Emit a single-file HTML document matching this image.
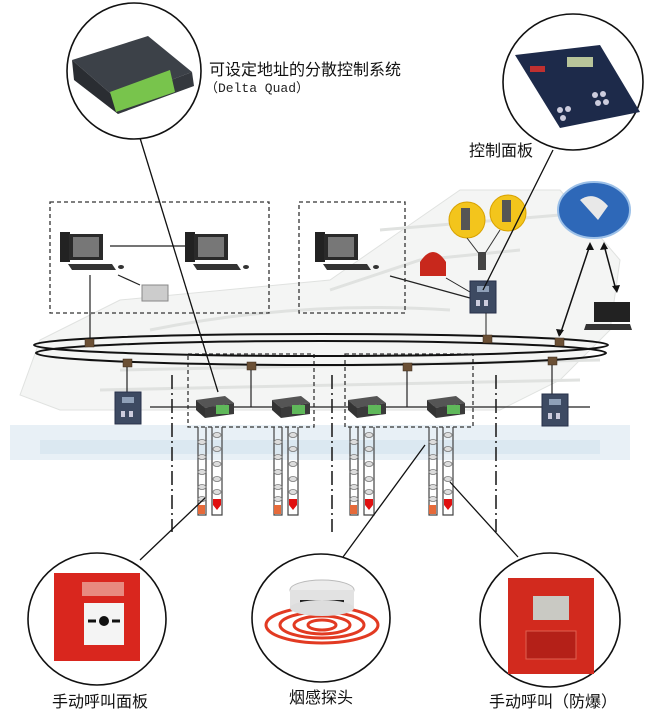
<!DOCTYPE html>
<html><head><meta charset="utf-8"><style>
html,body{margin:0;padding:0;background:#fff;width:650px;height:721px;overflow:hidden}
svg{display:block}
.t{font-family:"Liberation Sans","Noto Sans CJK SC",sans-serif;fill:#111}
</style></head><body>
<svg width="650" height="721" viewBox="0 0 650 721" xmlns="http://www.w3.org/2000/svg">
<defs>
<g id="ctrl">
  <polygon points="-18,-7 11,-11 20,-4 -9,1" fill="#555"/>
  <polygon points="-18,-7 -9,1 -9,11 -18,3" fill="#333"/>
  <polygon points="-9,1 20,-4 20,7 -9,11" fill="#3a3a3a"/>
  <rect x="2" y="-2" width="13" height="9" fill="#5fb85a"/>
</g>
<g id="strip">
  <path d="M-14,0 V88 H-6 V0 M0,0 V88 H10 V0" fill="none" stroke="#444" stroke-width="1.2"/>
  <g fill="#ddd" stroke="#777" stroke-width="0.8">
    <ellipse cx="-10" cy="15" rx="4" ry="2.5"/><ellipse cx="-10" cy="30" rx="4" ry="2.5"/><ellipse cx="-10" cy="45" rx="4" ry="2.5"/><ellipse cx="-10" cy="60" rx="4" ry="2.5"/><ellipse cx="-10" cy="72" rx="4" ry="2.5"/>
    <ellipse cx="5" cy="8" rx="4" ry="2.5"/><ellipse cx="5" cy="22" rx="4" ry="2.5"/><ellipse cx="5" cy="37" rx="4" ry="2.5"/><ellipse cx="5" cy="52" rx="4" ry="2.5"/><ellipse cx="5" cy="65" rx="4" ry="2.5"/>
  </g>
  <rect x="-14" y="78" width="7" height="9" fill="#e66a3a"/>
  <path d="M1,72 h8 v6 l-4,5 l-4,-5z" fill="#e01010"/>
</g>
<g id="pc">
  <rect x="0" y="0" width="10" height="30" fill="#222"/>
  <rect x="9" y="2" width="34" height="26" fill="#2a2a2a"/>
  <rect x="13" y="5" width="26" height="20" fill="#777"/>
  <polygon points="8,32 52,32 56,38 12,38" fill="#333"/>
  <ellipse cx="61" cy="35" rx="3" ry="2" fill="#333"/>
</g>
<g id="panel">
  <rect x="-13" y="-16" width="26" height="32" fill="#3d4a62" stroke="#26304a"/>
  <rect x="-6" y="-11" width="12" height="6" fill="#8fa0b8"/>
  <rect x="-7" y="3" width="4" height="6" fill="#ccd"/><rect x="1" y="3" width="4" height="6" fill="#ccd"/>
</g>
</defs>

<!-- ship background -->
<g fill="#f4f5f4" stroke="#e0e2e0">
  <path d="M20,395 L40,340 L120,300 L330,280 L460,190 L560,190 L620,260 L610,330 L560,380 L500,410 L60,410 Z"/>
</g>
<g stroke="#e0e2e0" stroke-width="3" fill="none">
  <path d="M150,330 Q300,300 450,310"/><path d="M120,370 L600,360"/><path d="M100,390 L580,380"/>
  <path d="M330,290 L420,260 L520,250"/><path d="M380,230 L560,215"/>
</g>
<rect x="10" y="425" width="620" height="35" fill="#e8f0f6"/>
<rect x="40" y="440" width="560" height="14" fill="#dbe8f1"/>

<!-- dashed boxes -->
<g fill="none" stroke="#333" stroke-width="1.3" stroke-dasharray="4,3">
  <rect x="50" y="202" width="219" height="111"/>
  <rect x="299" y="202" width="106" height="111"/>
  <rect x="188" y="354" width="126" height="73"/>
  <rect x="345" y="354" width="128" height="73"/>
</g>
<g stroke="#222" stroke-width="1.6" stroke-dasharray="14,4,2,4">
  <line x1="172" y1="375" x2="172" y2="532"/>
  <line x1="332" y1="375" x2="332" y2="532"/>
  <line x1="496" y1="375" x2="496" y2="532"/>
</g>

<!-- computers -->
<use href="#pc" x="60" y="232"/>
<use href="#pc" x="185" y="232"/>
<use href="#pc" x="315" y="232"/>
<line x1="110" y1="246" x2="185" y2="246" stroke="#222" stroke-width="1.2"/>
<line x1="90" y1="275" x2="90" y2="343" stroke="#222" stroke-width="1.2"/>
<line x1="118" y1="275" x2="140" y2="285" stroke="#222" stroke-width="1.2"/>
<rect x="142" y="285" width="26" height="16" fill="#ccc" stroke="#888"/>
<line x1="390" y1="276" x2="470" y2="298" stroke="#222" stroke-width="1.2"/>

<!-- phones / bell / satellite / laptop -->
<circle cx="467" cy="220" r="18" fill="#f3c51c" stroke="#d8a200"/>
<circle cx="508" cy="213" r="18" fill="#f3c51c" stroke="#d8a200"/>
<rect x="461" y="208" width="9" height="22" fill="#555"/>
<rect x="502" y="200" width="9" height="22" fill="#555"/>
<line x1="467" y1="238" x2="480" y2="255" stroke="#333"/><line x1="500" y1="230" x2="484" y2="255" stroke="#333"/>
<rect x="478" y="252" width="8" height="18" fill="#444"/>
<path d="M420,262 q13,-20 26,0 v14 h-26z" fill="#c8281c"/>
<line x1="446" y1="278" x2="470" y2="292" stroke="#222"/>
<use href="#panel" x="483" y="297"/>
<line x1="486" y1="313" x2="486" y2="338" stroke="#222"/>
<ellipse cx="594" cy="210" rx="36" ry="28" fill="#2e68b8" stroke="#9cc0e8" stroke-width="2"/>
<path d="M580,200 q14,-10 28,6 l-10,14z" fill="#e8e8e8"/>
<line x1="590" y1="245" x2="560" y2="335" stroke="#111" stroke-width="1.5"/>
<line x1="604" y1="245" x2="616" y2="290" stroke="#111" stroke-width="1.5"/>
<polygon points="590,242 586,250 594,250" fill="#111"/>
<polygon points="559,337 556,329 564,330" fill="#111"/>
<polygon points="604,242 600,250 608,249" fill="#111"/>
<polygon points="617,293 612,286 620,285" fill="#111"/>
<polygon points="594,302 630,302 630,322 594,322" fill="#222"/>
<polygon points="586,324 630,324 632,330 584,330" fill="#333"/>

<!-- ring -->
<g fill="none" stroke="#111" stroke-width="2">
  <ellipse cx="321" cy="345" rx="287" ry="11"/>
  <ellipse cx="321" cy="353" rx="285" ry="12"/>
</g>
<g fill="#6b5035" stroke="#3a2a1a" stroke-width="0.5">
  <rect x="85" y="339" width="9" height="8"/><rect x="123" y="359" width="9" height="8"/>
  <rect x="247" y="362" width="9" height="8"/><rect x="403" y="363" width="9" height="8"/>
  <rect x="483" y="335" width="9" height="8"/><rect x="555" y="338" width="9" height="8"/>
  <rect x="548" y="357" width="9" height="8"/>
</g>

<!-- drops -->
<g stroke="#222" stroke-width="1.2">
  <line x1="127" y1="367" x2="127" y2="395"/>
  <line x1="251" y1="370" x2="251" y2="407"/>
  <line x1="407" y1="371" x2="407" y2="407"/>
  <line x1="552" y1="365" x2="552" y2="395"/>
  <line x1="150" y1="407" x2="590" y2="407"/>
</g>
<use href="#panel" x="128" y="408"/>
<use href="#panel" x="555" y="410"/>
<use href="#ctrl" x="214" y="407"/>
<use href="#ctrl" x="290" y="407"/>
<use href="#ctrl" x="366" y="407"/>
<use href="#ctrl" x="445" y="407"/>
<use href="#strip" x="212" y="427"/>
<use href="#strip" x="288" y="427"/>
<use href="#strip" x="364" y="427"/>
<use href="#strip" x="443" y="427"/>

<!-- callout lines -->
<g stroke="#111" stroke-width="1.3">
  <line x1="140" y1="138" x2="218" y2="392"/>
  <line x1="553" y1="150" x2="483" y2="290"/>
  <line x1="205" y1="498" x2="140" y2="560"/>
  <line x1="425" y1="445" x2="343" y2="557"/>
  <line x1="450" y1="482" x2="518" y2="557"/>
</g>

<!-- circles -->
<g fill="#fff" stroke="#111" stroke-width="1.6">
  <ellipse cx="134" cy="71" rx="67" ry="68"/>
  <ellipse cx="573" cy="82" rx="70" ry="68"/>
  <ellipse cx="97" cy="619" rx="69" ry="66"/>
  <ellipse cx="321" cy="618" rx="69" ry="64"/>
  <ellipse cx="550" cy="620" rx="70" ry="67"/>
</g>
<!-- top-left device -->
<polygon points="72,60 148,36 192,72 118,100" fill="#3c4148"/>
<polygon points="72,60 118,100 118,114 74,80" fill="#2a2d32"/>
<polygon points="118,100 192,72 194,86 118,114" fill="#34383e"/>
<polygon points="110,92 170,70 175,92 116,112" fill="#78c44c"/>
<!-- top-right panel -->
<polygon points="515,55 600,45 640,112 560,128" fill="#1d2a4a"/>
<rect x="567" y="57" width="26" height="10" fill="#b8c49a"/>
<rect x="530" y="66" width="15" height="6" fill="#c03030"/>
<g fill="#ccd"><circle cx="595" cy="95" r="3"/><circle cx="603" cy="94" r="3"/><circle cx="598" cy="103" r="3"/><circle cx="606" cy="102" r="3"/><circle cx="560" cy="110" r="3"/><circle cx="568" cy="109" r="3"/><circle cx="563" cy="118" r="3"/></g>
<!-- call point -->
<rect x="54" y="573" width="86" height="88" fill="#d9261e"/>
<rect x="82" y="582" width="42" height="14" fill="#e88a80"/>
<rect x="84" y="603" width="40" height="42" fill="#f4f4f4"/>
<circle cx="104" cy="621" r="5" fill="#111"/>
<path d="M88,621 h8 M112,621 h8" stroke="#111" stroke-width="3"/>
<!-- smoke detector -->
<g fill="none" stroke="#e23a22" stroke-width="3">
  <ellipse cx="322" cy="625" rx="56" ry="18"/><ellipse cx="322" cy="625" rx="42" ry="13"/><ellipse cx="322" cy="625" rx="28" ry="9"/><ellipse cx="322" cy="625" rx="14" ry="5"/>
</g>
<ellipse cx="322" cy="590" rx="32" ry="10" fill="#ececec" stroke="#bbb"/>
<rect x="290" y="590" width="64" height="18" fill="#e2e2e2"/>
<rect x="300" y="600" width="44" height="4" fill="#222"/>
<ellipse cx="322" cy="608" rx="32" ry="8" fill="#ddd"/>
<!-- explosion-proof call -->
<rect x="508" y="578" width="86" height="96" fill="#d22a1e"/>
<rect x="533" y="596" width="36" height="24" fill="#c9c9c3"/>
<rect x="526" y="631" width="50" height="28" fill="#b42018" stroke="#e06050"/>

<!-- labels -->
<text class="t" x="209" y="75" font-size="16">可设定地址的分散控制系统</text>
<text x="205" y="92" font-family="Liberation Mono,'Noto Sans CJK SC',monospace" font-size="13" fill="#222">（Delta Quad）</text>
<text class="t" x="469" y="156" font-size="16">控制面板</text>
<text class="t" x="52" y="707" font-size="16">手动呼叫面板</text>
<text class="t" x="289" y="703" font-size="16">烟感探头</text>
<text class="t" x="489" y="707" font-size="16">手动呼叫（防爆）</text>
</svg>
</body></html>
